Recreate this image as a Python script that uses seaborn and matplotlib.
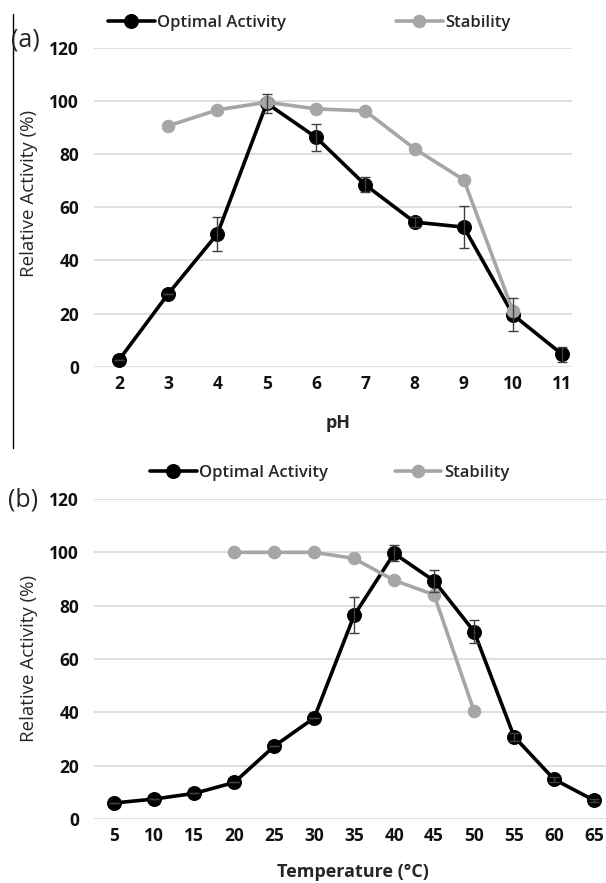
import matplotlib
matplotlib.use("Agg")
import matplotlib.pyplot as plt
from matplotlib.lines import Line2D
import seaborn as sns

# ---- data: (a) pH profile ----
ph_opt = [2, 3, 4, 5, 6, 7, 8, 9, 10, 11]
act_opt_ph = [2.5, 27.4, 50.0, 99.1, 86.3, 68.4, 54.4, 52.5, 19.5, 4.6]
err_opt_ph = [0, 0, 6.3, 3.6, 5.0, 2.8, 1.8, 8.0, 6.2, 2.8]
ph_stab = [3, 4, 5, 6, 7, 8, 9, 10]
act_stab_ph = [90.6, 96.6, 99.5, 97.0, 96.2, 82.0, 70.3, 20.8]

# ---- data: (b) temperature profile ----
temp_opt = [5, 10, 15, 20, 25, 30, 35, 40, 45, 50, 55, 60, 65]
act_opt_t = [6.0, 7.5, 9.6, 13.7, 27.3, 37.9, 76.4, 99.6, 89.3, 70.3, 30.9, 14.9, 7.0]
err_opt_t = [0, 0, 0, 0, 0, 0, 6.7, 3.0, 4.0, 4.3, 1.5, 1.0, 0.5]
temp_stab = [20, 25, 30, 35, 40, 45, 50]
act_stab_t = [100.0, 100.0, 100.0, 97.7, 89.5, 84.1, 40.4]

sns.set_theme(style="white")
plt.rcParams["font.family"] = ["Open Sans", "DejaVu Sans"]

W, H = 606, 883
fig = plt.figure(figsize=(W / 100, H / 100), dpi=100)


def px_axes(left, right, top, bottom):
    return fig.add_axes([left / W, 1 - bottom / H, (right - left) / W, (bottom - top) / H])


def draw_panel(ax, x1, y1, e1, x2, y2, xlim, xticks):
    sns.lineplot(x=x1, y=y1, ax=ax, color="black", lw=2.6, marker="o", ms=10,
                 mec="black", label="Optimal Activity", clip_on=False, zorder=3)
    sns.lineplot(x=x2, y=y2, ax=ax, color="#a6a6a6", lw=2.6, marker="o", ms=9,
                 mec="#a6a6a6", label="Stability", clip_on=False, zorder=4)
    ax.errorbar(x1, y1, yerr=e1, fmt="none", ecolor="#404040", elinewidth=1,
                capsize=3.5, capthick=1, zorder=5, clip_on=False)
    ax.set_xlim(*xlim)
    ax.set_ylim(0, 120)
    ax.set_yticks(range(0, 121, 20))
    ax.set_xticks(xticks)
    ax.grid(axis="y", color="#d9d9d9", lw=1.2)
    ax.grid(axis="x", visible=False)
    for s in ax.spines.values():
        s.set_visible(False)
    ax.tick_params(length=0, labelsize=12.5, pad=6, labelcolor="#111111")
    ax.tick_params(axis="y", pad=11)
    for lab in ax.get_xticklabels() + ax.get_yticklabels():
        lab.set_fontweight("bold")
    ax.set_ylabel("")


# panel (a)
ax1 = px_axes(94.3, 571.7, 47.7, 366.7)
draw_panel(ax1, ph_opt, act_opt_ph, err_opt_ph, ph_stab, act_stab_ph,
           (1.5, 11.19), ph_opt)
ax1.set_xlabel("pH", fontsize=13, fontweight="bold", va="center")
ax1.xaxis.set_label_coords((338 - 94.3) / (571.7 - 94.3), -(423 - 366.7) / (366.7 - 47.7))
ax1.legend(ncol=2, frameon=False, loc="center left",
           bbox_to_anchor=((108 - 94.3) / (571.7 - 94.3), 1 + (47.7 - 23) / (366.7 - 47.7)),
           handlelength=2.8, handletextpad=0.15, columnspacing=6.6, borderaxespad=0,
           borderpad=0, prop={"weight": "semibold", "size": 12})

# panel (b)
ax2 = px_axes(94.3, 614, 499, 819)
draw_panel(ax2, temp_opt, act_opt_t, err_opt_t, temp_stab, act_stab_t,
           (2.5, 67.5), temp_opt)
ax2.set_xlabel("Temperature (°C)", fontsize=13, fontweight="bold", va="center")
ax2.xaxis.set_label_coords((353 - 94.3) / (614 - 94.3), -(872 - 819) / (819 - 499))
ax2.legend(ncol=2, frameon=False, loc="center left",
           bbox_to_anchor=((150 - 94.3) / (614 - 94.3), 1 + (499 - 473) / (819 - 499)),
           handlelength=2.8, handletextpad=0.15, columnspacing=4.0, borderaxespad=0,
           borderpad=0, prop={"weight": "semibold", "size": 12})

# y labels and panel tags
for yc in (193, 658):
    fig.text(29 / W, 1 - yc / H, "Relative Activity (%)", rotation=90,
             ha="center", va="center", fontsize=13.5)
fig.text(11 / W, 1 - 40 / H, "(a)", fontsize=18, ha="left", va="center")
fig.text(8 / W, 1 - 500 / H, "(b)", fontsize=18, ha="left", va="center")

# left frame line of panel (a)
fig.add_artist(Line2D([12.7 / W, 12.7 / W], [1 - 14 / H, 1 - 448 / H],
                      color="black", lw=1))

fig.savefig("out.png", dpi=100)
